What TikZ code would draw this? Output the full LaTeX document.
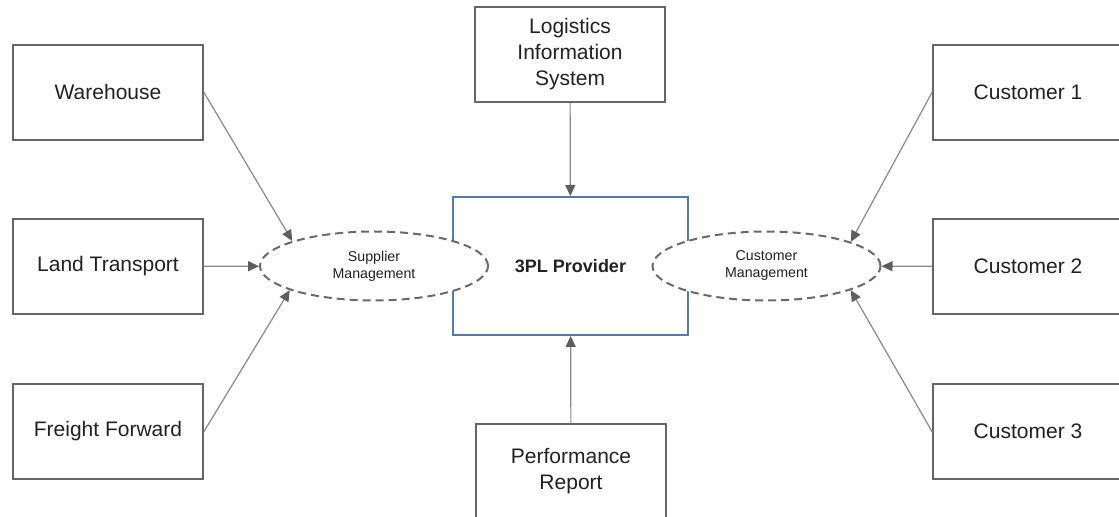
\documentclass[tikz,border=0pt]{standalone}
\usepackage{fontspec}
\setmainfont{Liberation Sans}
\usetikzlibrary{shapes.geometric,arrows.meta}
\definecolor{boxgray}{HTML}{666666}
\definecolor{ellgray}{HTML}{6A6A6A}
\definecolor{arrgray}{HTML}{8A8A8A}
\definecolor{tipgray}{HTML}{5E5E5E}
\definecolor{provblue}{HTML}{5479AE}
\definecolor{txt}{HTML}{222222}
\begin{document}
\begin{tikzpicture}[x=0.5pt,y=-0.5pt,
  box/.style={draw=boxgray, line width=1pt, minimum width=95pt, minimum height=47.5pt,
    inner sep=0pt, align=center, text=txt, font=\fontsize{10.5}{13}\selectfont},
  provbox/.style={draw=provblue, line width=1pt, minimum width=117.5pt, minimum height=69pt,
    inner sep=0pt, align=center, text=txt, font=\fontsize{9}{11}\selectfont\bfseries},
  mgmt/.style={ellipse, draw=ellgray, line width=1pt, dash pattern=on 4pt off 2.5pt,
    fill=white, minimum width=114pt, minimum height=34.5pt, inner sep=0pt,
    align=center, text=txt, font=\fontsize{7.1}{8.5}\selectfont},
  arr/.style={draw=arrgray, line width=0.6pt, -{Triangle[length=5.5pt,width=5pt,color=tipgray]}}
]
\useasboundingbox (0,0) rectangle (1119,517);
\fill[white] (0,0) rectangle (1119,517);

\node[box] (wh) at (108,92.5) {Warehouse};
\node[box] (lt) at (108,266.5) {Land Transport};
\node[box] (ff) at (108,431.5) {Freight Forward};
\node[box] (lis) at (570,54.5) {Logistics\\Information\\System};
\node[box] (pr) at (571,471.5) {Performance\\Report};
\node[box] (c1) at (1028,92.5) {Customer 1};
\node[box] (c2) at (1028,266.5) {Customer 2};
\node[box] (c3) at (1028,431.5) {Customer 3};

\node[provbox] (prov) at (570.5,266) {3PL Provider};
\node[mgmt] (sup) at (374,266) {Supplier\\Management};
\node[mgmt] (cus) at (766.5,266) {Customer\\Management};

\draw[arr] (wh.east) -- (sup.163.5);
\draw[arr] (lt) -- (sup);
\draw[arr] (ff.east) -- (sup.196.5);
\draw[arr] (c1.west) -- (cus.16.5);
\draw[arr] (c2) -- (cus);
\draw[arr] (c3.west) -- (cus.-16.5);
\draw[arr] (lis) -- (prov);
\draw[arr] (pr) -- (prov);
\end{tikzpicture}
\end{document}
